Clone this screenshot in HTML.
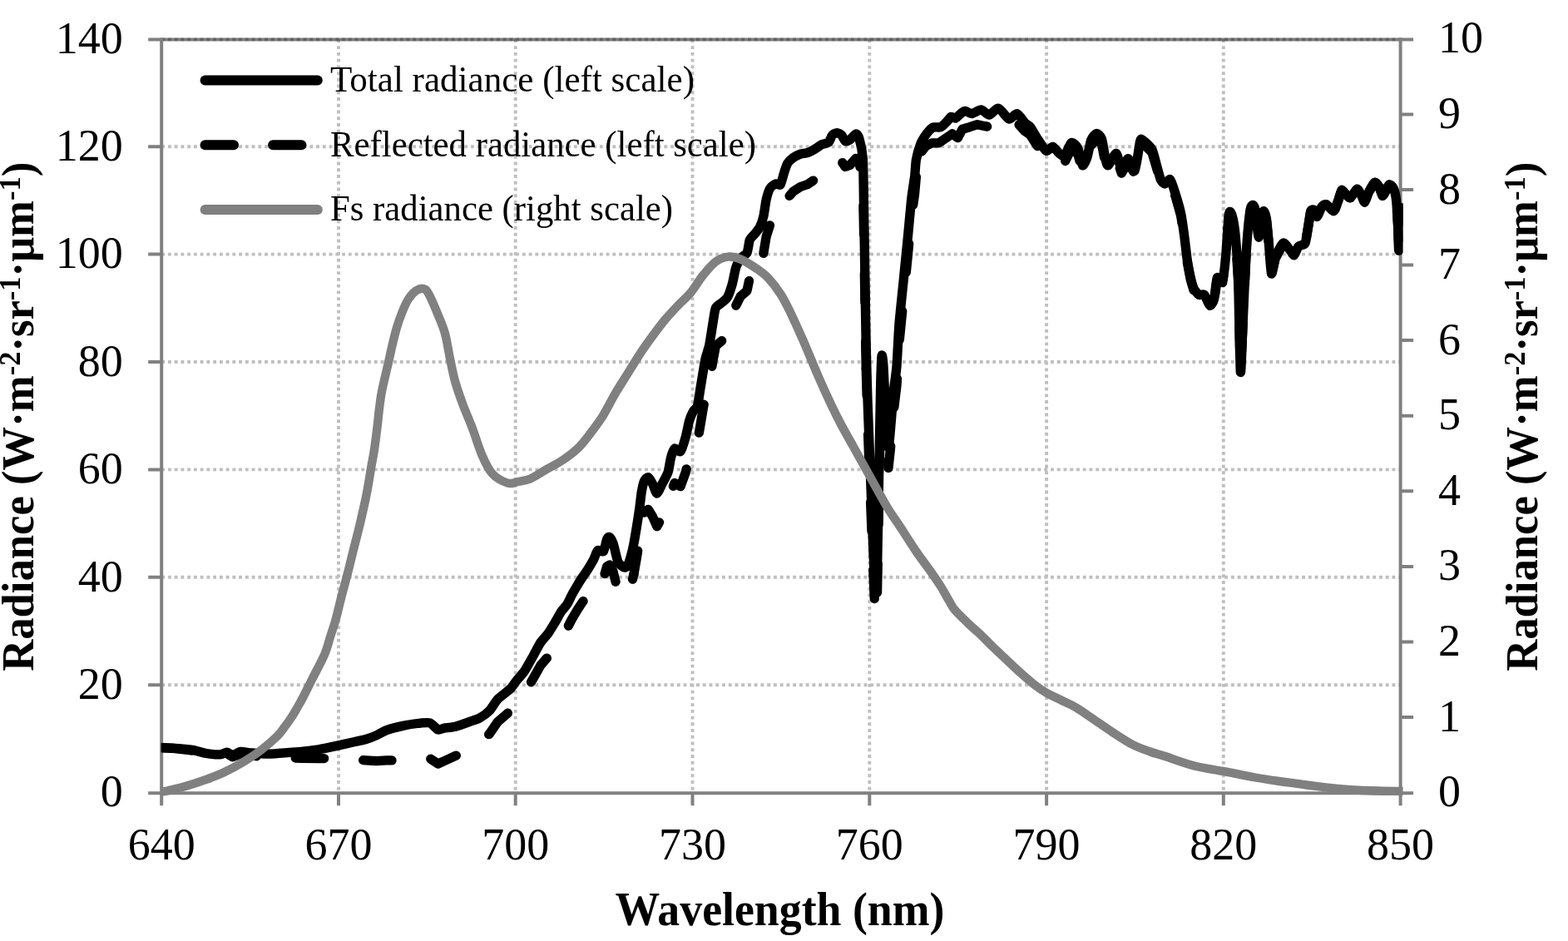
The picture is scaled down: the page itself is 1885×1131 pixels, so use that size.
<!DOCTYPE html>
<html><head><meta charset="utf-8"><title>Radiance chart</title><style>html,body{margin:0;padding:0;background:#fff;overflow:hidden}svg{display:block}</style></head><body>
<svg width="1885" height="1131" viewBox="0 0 1885 1131">
<defs><clipPath id="pa"><rect x="193.8" y="20" width="1492.8" height="960"/></clipPath></defs>
<rect width="1885" height="1131" fill="#fff"/>
<path d="M178.2,47.4 H1699.1" stroke="#808080" stroke-width="4" fill="none"/>
<path d="M194.2,823.2 H1683.6 M194.2,693.8 H1683.6 M194.2,564.4 H1683.6 M194.2,435.0 H1683.6 M194.2,305.6 H1683.6 M194.2,176.2 H1683.6 M194.2,47.4 H1683.6 M407.0,47.4 V953.2 M619.7,47.4 V953.2 M832.5,47.4 V953.2 M1045.3,47.4 V953.2 M1258.1,47.4 V953.2 M1470.8,47.4 V953.2" stroke="#000" stroke-opacity="0.25" stroke-width="3.9" stroke-dasharray="3.9,3.845" fill="none"/>
<path d="M194.2,45.5 V953.2 M1683.6,45.5 V953.2 M178.2,953.2 H1699.1 M178.2,823.2 H194.2 M178.2,693.8 H194.2 M178.2,564.4 H194.2 M178.2,435.0 H194.2 M178.2,305.6 H194.2 M178.2,176.2 H194.2 M1683.6,862.0 H1699.1 M1683.6,771.4 H1699.1 M1683.6,680.9 H1699.1 M1683.6,590.3 H1699.1 M1683.6,499.7 H1699.1 M1683.6,409.1 H1699.1 M1683.6,318.5 H1699.1 M1683.6,228.0 H1699.1 M1683.6,137.4 H1699.1 M194.2,953.2 V968.2 M407.0,953.2 V968.2 M619.7,953.2 V968.2 M832.5,953.2 V968.2 M1045.3,953.2 V968.2 M1258.1,953.2 V968.2 M1470.8,953.2 V968.2 M1683.6,953.2 V968.2" stroke="#808080" stroke-width="4" fill="none"/>
<g clip-path="url(#pa)" fill="none" stroke-linejoin="round" stroke-linecap="round">
<path d="M189.5,898.5 L194.1,898.7 L210.7,899.7 L231.4,902.2 L247.9,906.7 L264.5,908.5 L272.8,906.0 L279.7,909.8 L289.3,905.9 L300.3,907.8 L321.0,910.3 L341.7,910.4 L362.4,911.4 L383.1,911.6 L403.8,911.6 L424.5,912.8 L440.0,913.9 L452.4,914.6 L464.8,913.9 L483.3,913.9 L501.9,912.7 L516.7,911.5 L526.6,918.0 L534.1,914.7 L547.7,908.4 L563.8,899.8" stroke="#000" stroke-width="11.3" stroke-dasharray="34.5,47" stroke-dashoffset="75.5"/>
<path d="M563.8,899.8 L576.1,893.0 L588.5,881.9 L598.4,867.5 L613.3,854.7 L621.0,844.7 L630.6,833.4 L641.2,815.1 L650.0,799.5 L658.9,789.3 L667.7,775.5 L674.8,763.4 L681.9,755.0 L687.2,744.7 L694.3,732.7 L700.0,724.0 L706.4,715.4 L713.8,703.4 L718.6,693.3 L725.5,695.1 L729.7,680.7 L732.9,679.0 L737.1,687.0 L740.3,700.1 L743.5,711.1 L749.8,717.2 L754.1,716.6 L758.3,705.3 L762.0,689.9" stroke="#000" stroke-width="11.3" stroke-dasharray="34.5,47" stroke-dashoffset="52.0"/>
<path d="M762.0,689.9 L765.5,669.8 L768.8,648.6 L771.3,628.9 L774.5,616.2 L779.2,612.3 L784.5,620.7 L789.8,632.7 L796.0,621.8 L803.1,608.3 L806.6,590.9 L811.0,580.5 L818.1,584.7 L824.3,567.5 L828.7,548.3 L833.1,538.0 L838.4,531.6 L842.0,510.6 L845.5,489.8 L848.3,474.7 L852.7,460.0 L857.1,433.2 L860.4,415.8 L868.1,409.3 L874.8,402.9 L880.3,387.4 L884.7,367.4 L890.2,356.3 L898.0,349.4 L901.3,333.8" stroke="#000" stroke-width="11.3" stroke-dasharray="34.5,47" stroke-dashoffset="6.4"/>
<path d="M901.3,333.8 L906.8,326.9 L913.5,317.7 L917.9,304.2 L921.2,284.2 L925.6,270.5 L932.2,264.4 L938.2,264.8 L942.5,250.3 L946.7,238.1 L953.8,230.0 L962.3,224.5 L970.8,221.7 L979.3,215.9 L987.7,208.9 L996.2,204.8 L1000.5,195.7 L1006.1,192.0 L1011.8,194.1 L1016.0,200.5 L1021.7,198.4 L1028.8,190.4 L1033.0,195.5 L1037.3,219.1 L1038.6,284.1 L1039.9,363.6 L1041.2,443.1" stroke="#000" stroke-width="11.3" stroke-dasharray="34.5,47" stroke-dashoffset="47.3"/>
<path d="M1041.2,443.1 L1043.0,507.5 L1046.0,587.2 L1049.0,666.8 L1051.5,726.5 L1052.8,739.3 L1054.5,716.1 L1056.5,605.8 L1058.5,495.6 L1060.0,453.4 L1062.0,465.1" stroke="#000" stroke-width="11.3" stroke-dasharray="34.5,47" stroke-dashoffset="2.3"/>
<path d="M1062.0,465.1 L1065.0,524.7 L1068.0,562.4 L1071.0,534.0 L1074.0,496.5 L1078.0,463.3 L1081.0,411.7 L1086.3,358.1 L1091.6,304.4 L1095.6,261.4 L1099.6,232.9 L1101.4,212.7" stroke="#000" stroke-width="11.3" stroke-dasharray="34.5,47" stroke-dashoffset="73.8"/>
<path d="M1108.0,182.0 L1113.0,175.5 L1120.5,171.9 L1128.6,171.9 L1136.6,166.4 L1144.7,160.8 L1151.5,165.7 L1157.0,155.2 L1165.7,152.7 L1175.0,149.7 L1181.0,151.0 L1186.7,152.1" stroke="#000" stroke-width="11.3"/>
<path d="M1200.3,142.3 L1213.0,154.2 L1222.6,147.2 L1232.1,157.7 L1238.5,162.1 L1246.4,174.5 L1257.6,189.8 L1265.5,184.7 L1273.5,192.5 L1279.8,195.3 L1287.8,179.1 L1295.8,185.2 L1301.3,205.7 L1306.9,195.8 L1311.7,174.9 L1318.0,166.7 L1324.4,172.7 L1329.2,197.9 L1332.4,204.2 L1341.9,189.4 L1348.3,208.2 L1356.2,195.1 L1364.2,209.1 L1370.6,173.9 L1373.8,172.2 L1384.9,183.1 L1390.3,201.4 L1395.4,219.2 L1400.5,224.2 L1406.9,218.9 L1413.3,236.7 L1419.7,259.6 L1423.6,285.2 L1427.4,315.8 L1431.3,336.2 L1435.1,349.1 L1441.5,356.7 L1447.9,356.6 L1454.4,369.3 L1459.5,361.5 L1463.3,335.8 L1469.7,339.6 L1473.6,310.0 L1477.4,258.7 L1481.3,261.2 L1485.1,284.3 L1488.5,335.4 L1491.3,448.6 L1494.3,386.6 L1497.9,309.7 L1503.1,253.2 L1508.2,250.5 L1513.3,286.4 L1518.5,255.6 L1522.3,263.3 L1525.3,293.2 L1528.5,330.1 L1533.3,310.5 L1542.5,293.1 L1550.5,301.0 L1555.8,307.5 L1561.1,296.9 L1569.1,292.8 L1573.1,270.3 L1575.7,254.4 L1579.7,252.9 L1583.7,260.9 L1589.0,248.9 L1594.3,246.2 L1603.6,254.1 L1608.9,240.8 L1612.9,228.9 L1618.2,234.1 L1623.5,238.1 L1631.4,227.4 L1636.7,235.3 L1640.7,243.3 L1646.0,230.0 L1652.6,219.4 L1658.0,224.7 L1661.9,235.3 L1665.9,230.0 L1669.9,222.0 L1675.0,226.2 L1678.5,240.2 L1680.5,270.2 L1681.8,301.2 L1685.8,250.2" stroke="#000" stroke-width="11.3" stroke-dasharray="34.5,47" stroke-dashoffset="48.6"/>
<path d="M189.5,898.4 C190.0,898.4 191.6,898.5 194.1,898.6 C196.6,898.7 206.3,899.0 210.7,899.3 C215.1,899.6 227.1,900.7 231.4,901.4 C235.7,902.1 244.0,904.9 247.9,905.5 C251.8,906.1 261.6,907.1 264.5,906.9 C267.4,906.7 271.0,904.0 272.8,904.1 C274.6,904.2 277.8,907.7 279.7,907.6 C281.6,907.5 286.9,903.7 289.3,903.4 C291.7,903.1 296.6,904.5 300.3,904.8 C304.0,905.1 316.2,906.2 321.0,906.2 C325.8,906.2 336.9,905.1 341.7,904.8 C346.5,904.5 357.6,903.9 362.4,903.4 C367.2,902.9 378.3,901.5 383.1,900.7 C387.9,899.9 399.0,897.6 403.8,896.6 C408.6,895.6 420.3,892.9 424.5,892.0 C428.7,891.1 436.7,889.5 440.0,888.5 C443.3,887.5 449.5,885.1 452.4,883.8 C455.3,882.5 461.2,878.9 464.8,877.6 C468.4,876.3 479.0,873.5 483.3,872.6 C487.6,871.7 498.0,869.9 501.9,869.5 C505.8,869.1 513.8,868.0 516.7,868.9 C519.6,869.8 524.6,876.3 526.6,877.0 C528.6,877.7 531.6,875.5 534.1,875.1 C536.6,874.7 544.2,874.1 547.7,873.2 C551.2,872.3 560.5,868.9 563.8,867.7 C567.1,866.5 573.2,864.9 576.1,863.3 C579.0,861.7 585.9,856.8 588.5,854.1 C591.1,851.4 595.5,843.4 598.4,840.4 C601.3,837.4 610.7,830.7 613.3,828.1 C615.9,825.5 619.0,820.5 621.0,818.0 C623.0,815.5 628.2,810.0 630.6,806.5 C633.0,803.0 638.9,792.0 641.2,788.0 C643.5,784.0 647.9,775.1 650.0,772.0 C652.1,768.9 656.8,764.3 658.9,761.4 C661.0,758.5 665.8,750.4 667.7,747.3 C669.6,744.2 673.1,737.4 674.8,734.9 C676.5,732.4 680.5,728.4 681.9,726.1 C683.3,723.8 685.8,718.2 687.2,715.5 C688.6,712.8 692.8,705.6 694.3,703.1 C695.8,700.6 698.6,696.1 700.0,694.0 C701.4,691.9 704.8,687.4 706.4,684.8 C708.0,682.2 712.4,674.8 713.8,672.1 C715.2,669.4 717.2,662.6 718.6,661.5 C720.0,660.4 724.2,664.2 725.5,662.6 C726.8,661.0 728.8,649.7 729.7,647.7 C730.6,645.7 732.0,645.0 732.9,645.6 C733.8,646.2 736.2,650.7 737.1,653.0 C738.0,655.3 739.6,663.0 740.3,665.7 C741.0,668.4 742.4,674.5 743.5,676.4 C744.6,678.3 748.6,681.2 749.8,681.7 C751.0,682.2 753.1,682.1 754.1,680.6 C755.1,679.1 757.4,672.1 758.3,668.9 C759.2,665.7 761.2,657.2 762.0,653.0 C762.8,648.8 764.7,637.4 765.5,632.5 C766.3,627.6 768.1,615.8 768.8,611.0 C769.5,606.2 770.6,594.9 771.3,591.0 C772.0,587.1 773.6,580.0 774.5,578.0 C775.4,576.0 778.0,573.2 779.2,573.6 C780.4,574.0 783.3,579.2 784.5,581.5 C785.7,583.8 788.5,593.0 789.8,593.0 C791.1,593.0 794.4,584.5 796.0,581.5 C797.6,578.5 801.9,571.1 803.1,567.4 C804.3,563.7 805.7,553.0 806.6,549.7 C807.5,546.4 809.7,539.8 811.0,539.0 C812.3,538.2 816.5,544.2 818.1,542.6 C819.7,541.0 823.1,529.3 824.3,525.0 C825.5,520.7 827.7,509.0 828.7,505.5 C829.7,502.0 832.0,496.9 833.1,494.8 C834.2,492.7 837.4,491.1 838.4,487.8 C839.4,484.5 841.2,471.5 842.0,466.5 C842.8,461.5 844.8,449.6 845.5,445.3 C846.2,441.0 847.5,433.5 848.3,430.0 C849.1,426.5 851.7,419.9 852.7,415.0 C853.7,410.1 856.2,393.0 857.1,387.8 C858.0,382.6 859.1,373.0 860.4,370.2 C861.7,367.4 866.4,365.1 868.1,363.5 C869.8,361.9 873.4,359.5 874.8,356.9 C876.2,354.3 879.1,345.5 880.3,341.4 C881.5,337.3 883.5,325.1 884.7,321.5 C885.9,317.9 888.6,312.6 890.2,310.5 C891.8,308.4 896.7,306.5 898.0,303.9 C899.3,301.3 900.3,291.0 901.3,288.4 C902.3,285.8 905.4,283.6 906.8,281.8 C908.2,280.0 912.2,275.5 913.5,272.9 C914.8,270.3 917.0,263.6 917.9,259.7 C918.8,255.8 920.3,243.7 921.2,239.8 C922.1,235.9 924.3,228.7 925.6,226.5 C926.9,224.3 930.7,221.5 932.2,221.0 C933.7,220.5 937.0,223.4 938.2,221.9 C939.4,220.4 941.5,211.0 942.5,208.0 C943.5,205.0 945.4,198.6 946.7,196.4 C948.0,194.2 952.0,190.6 953.8,189.3 C955.6,188.0 960.3,185.8 962.3,185.1 C964.3,184.4 968.8,184.4 970.8,183.7 C972.8,183.0 977.3,180.6 979.3,179.4 C981.3,178.2 985.7,174.8 987.7,173.8 C989.7,172.8 994.7,172.3 996.2,171.0 C997.7,169.7 999.3,163.8 1000.5,162.5 C1001.7,161.2 1004.8,159.6 1006.1,159.6 C1007.4,159.6 1010.6,161.3 1011.8,162.5 C1013.0,163.7 1014.8,168.8 1016.0,169.5 C1017.2,170.2 1020.2,169.1 1021.7,168.1 C1023.2,167.1 1027.5,161.2 1028.8,161.0 C1030.1,160.8 1032.0,163.2 1033.0,166.7 C1034.0,170.2 1036.6,180.4 1037.3,190.8 C1038.0,201.2 1038.3,239.1 1038.6,256.0 C1038.9,272.9 1039.6,317.1 1039.9,335.7 C1040.2,354.3 1040.8,398.5 1041.2,415.3 C1041.6,432.1 1042.4,463.1 1043.0,480.0 C1043.6,496.9 1045.3,541.3 1046.0,560.0 C1046.7,578.7 1048.4,623.7 1049.0,640.0 C1049.6,656.3 1051.1,691.5 1051.5,700.0 C1051.9,708.5 1052.5,714.2 1052.8,713.0 C1053.1,711.8 1054.1,705.5 1054.5,690.0 C1054.9,674.5 1056.0,605.7 1056.5,580.0 C1057.0,554.3 1058.1,487.7 1058.5,470.0 C1058.9,452.3 1059.6,431.5 1060.0,428.0 C1060.4,424.5 1061.4,431.6 1062.0,440.0 C1062.6,448.4 1064.3,488.6 1065.0,500.0 C1065.7,511.4 1067.3,536.8 1068.0,538.0 C1068.7,539.2 1070.3,517.6 1071.0,510.0 C1071.7,502.4 1073.2,481.0 1074.0,472.8 C1074.8,464.6 1077.2,449.8 1078.0,440.0 C1078.8,430.2 1080.0,400.9 1081.0,388.7 C1082.0,376.5 1085.1,348.1 1086.3,335.7 C1087.5,323.3 1090.5,293.8 1091.6,282.6 C1092.7,271.4 1094.7,248.2 1095.6,240.0 C1096.5,231.8 1098.9,217.6 1099.6,212.0 C1100.3,206.4 1100.6,196.6 1101.4,192.0 C1102.2,187.4 1105.5,176.2 1106.7,173.0 C1107.9,169.8 1110.3,166.1 1111.5,164.2 C1112.7,162.3 1115.8,158.3 1117.0,157.0 C1118.2,155.7 1120.5,153.5 1122.1,153.0 C1123.7,152.5 1129.1,153.5 1131.0,152.7 C1132.9,151.9 1136.6,147.9 1138.0,146.5 C1139.4,145.1 1142.2,140.8 1143.4,140.3 C1144.6,139.8 1147.3,142.6 1148.7,142.1 C1150.1,141.6 1154.4,136.9 1155.7,135.9 C1157.0,134.9 1158.7,133.2 1160.2,133.3 C1161.7,133.4 1166.1,136.8 1168.4,136.6 C1170.7,136.4 1177.2,131.6 1179.6,131.8 C1182.0,132.0 1186.7,138.4 1189.1,138.2 C1191.5,138.0 1197.5,129.6 1200.3,130.2 C1203.1,130.8 1210.4,142.3 1213.0,143.0 C1215.6,143.7 1220.4,136.1 1222.6,136.6 C1224.8,137.1 1230.2,145.8 1232.1,147.7 C1234.0,149.6 1236.8,150.4 1238.5,152.5 C1240.2,154.6 1244.2,162.0 1246.4,165.3 C1248.6,168.6 1255.4,179.9 1257.6,181.2 C1259.8,182.5 1263.6,176.0 1265.5,176.4 C1267.4,176.8 1271.8,183.1 1273.5,184.4 C1275.2,185.7 1278.1,189.0 1279.8,187.5 C1281.5,186.0 1285.9,172.7 1287.8,171.6 C1289.7,170.5 1294.2,174.8 1295.8,178.0 C1297.4,181.2 1300.0,197.4 1301.3,198.7 C1302.6,200.0 1305.7,192.6 1306.9,189.1 C1308.1,185.6 1310.4,171.7 1311.7,168.4 C1313.0,165.1 1316.5,160.7 1318.0,160.5 C1319.5,160.3 1323.1,163.1 1324.4,166.8 C1325.7,170.5 1328.3,188.6 1329.2,192.3 C1330.1,196.0 1330.9,199.6 1332.4,198.7 C1333.9,197.8 1340.0,183.8 1341.9,184.4 C1343.8,185.0 1346.6,202.8 1348.3,203.5 C1350.0,204.2 1354.3,190.5 1356.2,190.7 C1358.1,190.9 1362.5,207.4 1364.2,205.0 C1365.9,202.6 1369.5,174.3 1370.6,170.0 C1371.7,165.7 1372.1,167.3 1373.8,168.4 C1375.5,169.5 1383.0,176.1 1384.9,179.6 C1386.8,183.1 1389.1,193.8 1390.3,198.0 C1391.5,202.2 1394.2,213.2 1395.4,215.9 C1396.6,218.6 1399.2,221.0 1400.5,221.0 C1401.8,221.0 1405.4,214.4 1406.9,215.9 C1408.4,217.4 1411.8,229.0 1413.3,233.8 C1414.8,238.6 1418.5,251.2 1419.7,256.9 C1420.9,262.6 1422.7,276.0 1423.6,282.6 C1424.5,289.2 1426.5,307.3 1427.4,313.3 C1428.3,319.3 1430.4,329.9 1431.3,333.8 C1432.2,337.7 1433.9,344.3 1435.1,346.7 C1436.3,349.1 1440.0,353.5 1441.5,354.4 C1443.0,355.3 1446.4,352.9 1447.9,354.4 C1449.4,355.9 1453.0,366.6 1454.4,367.2 C1455.8,367.8 1458.5,363.4 1459.5,359.5 C1460.5,355.6 1462.1,336.3 1463.3,333.8 C1464.5,331.3 1468.5,340.7 1469.7,337.7 C1470.9,334.7 1472.7,317.6 1473.6,308.2 C1474.5,298.8 1476.5,262.6 1477.4,256.9 C1478.3,251.2 1480.4,256.5 1481.3,259.5 C1482.2,262.5 1484.3,273.9 1485.1,282.6 C1485.9,291.3 1487.8,314.6 1488.5,333.8 C1489.2,353.0 1490.6,441.0 1491.3,447.0 C1492.0,453.0 1493.5,401.3 1494.3,385.1 C1495.1,368.9 1496.9,323.8 1497.9,308.2 C1498.9,292.6 1501.9,258.7 1503.1,251.8 C1504.3,244.9 1507.0,245.3 1508.2,249.2 C1509.4,253.1 1512.1,284.5 1513.3,285.1 C1514.5,285.7 1517.5,257.1 1518.5,254.4 C1519.5,251.7 1521.5,257.7 1522.3,262.1 C1523.1,266.5 1524.6,284.2 1525.3,292.0 C1526.0,299.8 1527.6,327.0 1528.5,329.0 C1529.4,331.0 1531.7,313.7 1533.3,309.4 C1534.9,305.1 1540.5,293.2 1542.5,292.1 C1544.5,291.0 1548.9,298.4 1550.5,300.1 C1552.1,301.8 1554.6,307.2 1555.8,306.7 C1557.0,306.2 1559.5,297.8 1561.1,296.1 C1562.7,294.4 1567.7,295.2 1569.1,292.1 C1570.5,289.0 1572.3,274.1 1573.1,269.6 C1573.9,265.1 1574.9,255.7 1575.7,253.7 C1576.5,251.7 1578.8,251.5 1579.7,252.3 C1580.6,253.1 1582.6,260.8 1583.7,260.3 C1584.8,259.8 1587.8,250.1 1589.0,248.4 C1590.2,246.7 1592.6,245.1 1594.3,245.7 C1596.0,246.3 1601.9,254.3 1603.6,253.7 C1605.3,253.1 1607.8,243.3 1608.9,240.4 C1610.0,237.5 1611.8,229.3 1612.9,228.5 C1614.0,227.7 1617.0,232.7 1618.2,233.8 C1619.4,234.9 1622.0,238.6 1623.5,237.8 C1625.0,237.0 1629.9,227.4 1631.4,227.1 C1632.9,226.8 1635.6,233.2 1636.7,235.1 C1637.8,237.0 1639.6,243.7 1640.7,243.1 C1641.8,242.5 1644.6,232.6 1646.0,229.8 C1647.4,227.0 1651.2,219.8 1652.6,219.2 C1654.0,218.6 1656.9,222.6 1658.0,224.5 C1659.1,226.4 1661.0,234.5 1661.9,235.1 C1662.8,235.7 1665.0,231.4 1665.9,229.8 C1666.8,228.2 1668.8,222.2 1669.9,221.8 C1671.0,221.4 1674.0,223.9 1675.0,226.0 C1676.0,228.1 1677.9,234.9 1678.5,240.0 C1679.1,245.1 1680.1,262.9 1680.5,270.0 C1680.9,277.1 1681.2,303.3 1681.8,301.0 C1682.4,298.7 1685.3,255.9 1685.8,250.0" stroke="#000" stroke-width="11.3"/>
<path d="M189.0,952.5 C189.9,952.4 192.0,952.0 194.2,951.6 C196.4,951.2 197.3,951.4 202.4,950.2 C207.5,949.0 217.3,946.8 224.7,944.6 C232.1,942.4 239.6,939.9 247.0,937.2 C254.4,934.5 261.9,931.8 269.3,928.3 C276.7,924.8 284.2,920.9 291.6,916.4 C299.0,911.9 307.0,906.8 313.9,901.5 C320.8,896.2 328.4,889.6 333.2,884.9 C337.9,880.2 339.5,877.2 342.4,873.4 C345.3,869.6 348.0,865.8 350.5,862.0 C353.0,858.2 355.2,854.3 357.4,850.5 C359.6,846.7 360.7,844.9 363.8,839.0 C366.9,833.1 371.5,823.7 375.9,815.0 C380.3,806.3 386.5,795.2 390.0,787.0 C393.5,778.8 394.8,772.4 397.0,765.5 C399.2,758.6 401.1,753.3 403.3,745.6 C405.5,737.9 407.8,727.7 410.0,719.1 C412.2,710.5 414.3,703.1 416.6,694.3 C418.9,685.5 421.0,676.7 423.6,666.1 C426.2,655.5 429.7,642.5 432.5,630.7 C435.3,618.9 438.0,607.3 440.4,595.4 C442.8,583.5 445.0,568.3 446.6,559.3 C448.2,550.3 448.7,549.0 449.8,541.6 C450.9,534.2 452.2,523.9 453.3,515.0 C454.4,506.1 455.3,496.2 456.3,488.5 C457.3,480.8 457.5,477.9 459.3,469.0 C461.1,460.1 464.8,445.1 467.0,435.4 C469.2,425.7 470.8,417.9 472.5,411.0 C474.2,404.1 475.2,399.7 477.0,393.7 C478.8,387.7 481.2,380.8 483.5,375.1 C485.8,369.4 488.2,363.8 491.0,359.5 C493.8,355.2 497.0,351.6 500.0,349.5 C503.0,347.4 506.5,346.5 509.0,347.0 C511.5,347.5 512.2,347.5 515.0,352.5 C517.8,357.5 522.7,368.9 526.0,377.0 C529.3,385.1 532.5,392.0 535.0,401.0 C537.5,410.0 539.0,421.5 541.0,431.0 C543.0,440.5 544.5,449.0 547.0,458.0 C549.5,467.0 552.5,475.5 556.0,485.0 C559.5,494.5 564.0,504.4 568.0,515.0 C572.0,525.6 576.0,539.3 580.0,548.4 C584.0,557.5 586.9,564.1 592.0,569.5 C597.1,574.9 605.3,579.0 610.4,580.6 C615.5,582.2 617.9,579.9 622.4,579.0 C626.9,578.1 632.0,577.8 637.5,575.5 C643.0,573.2 649.0,568.8 655.5,565.0 C662.0,561.2 669.9,557.4 676.5,553.0 C683.1,548.6 689.4,543.9 695.0,538.5 C700.6,533.1 705.0,527.0 710.0,520.5 C715.0,514.0 720.0,507.4 725.0,499.4 C730.0,491.4 735.0,480.9 740.0,472.4 C745.0,463.9 750.0,456.3 755.0,448.3 C760.0,440.3 765.0,431.8 770.0,424.3 C775.0,416.8 780.0,410.0 785.0,403.2 C790.0,396.4 795.0,389.7 800.0,383.7 C805.0,377.7 810.0,372.5 815.0,367.2 C820.0,361.9 825.0,358.1 830.0,352.1 C835.0,346.1 840.0,337.4 845.0,331.1 C850.0,324.9 855.2,318.4 860.3,314.6 C865.4,310.9 870.4,309.1 875.4,308.6 C880.4,308.1 884.9,309.4 890.4,311.6 C895.9,313.9 902.9,318.4 908.4,322.1 C913.9,325.9 918.5,328.9 923.5,334.1 C928.5,339.4 934.0,346.6 938.5,353.6 C943.0,360.6 946.0,366.9 950.5,376.2 C955.0,385.5 959.9,396.4 965.5,409.2 C971.1,422.0 978.4,440.2 984.0,453.0 C989.6,465.8 994.5,476.5 999.0,486.0 C1003.5,495.5 1006.5,501.5 1011.0,510.0 C1015.5,518.5 1021.0,528.0 1026.0,537.0 C1031.0,546.0 1036.0,555.0 1041.0,564.0 C1046.0,573.0 1051.5,583.0 1056.0,591.0 C1060.5,599.0 1063.5,604.8 1068.0,612.0 C1072.5,619.2 1077.3,625.8 1082.8,634.2 C1088.3,642.6 1095.1,653.5 1101.2,662.5 C1107.3,671.5 1114.6,680.8 1119.6,687.9 C1124.6,695.0 1127.5,699.2 1131.0,704.9 C1134.5,710.6 1138.0,717.2 1140.8,721.9 C1143.6,726.6 1143.9,728.5 1147.9,733.2 C1151.9,737.9 1159.7,745.2 1164.9,750.2 C1170.1,755.2 1174.3,758.4 1179.0,762.9 C1183.7,767.4 1189.3,773.3 1193.2,777.1 C1197.1,780.9 1197.3,781.0 1202.4,785.8 C1207.5,790.6 1216.6,799.5 1223.7,805.9 C1230.8,812.3 1239.2,819.6 1244.9,824.0 C1250.6,828.4 1252.3,829.5 1257.6,832.5 C1262.9,835.5 1270.7,839.0 1276.7,842.0 C1282.7,845.0 1287.7,847.0 1293.7,850.5 C1299.7,854.0 1305.7,858.4 1312.8,863.2 C1319.9,868.0 1328.0,873.8 1336.1,879.1 C1344.2,884.4 1353.8,890.9 1361.6,895.0 C1369.4,899.1 1376.4,901.2 1382.8,903.5 C1389.2,905.8 1391.0,906.0 1399.8,908.8 C1408.6,911.6 1424.0,917.5 1435.8,920.5 C1447.5,923.5 1458.1,924.6 1470.3,926.9 C1482.5,929.2 1495.7,932.2 1509.0,934.5 C1522.3,936.8 1536.5,938.8 1550.3,940.7 C1564.1,942.7 1577.9,944.7 1591.7,946.2 C1605.5,947.7 1617.8,948.9 1633.1,949.7 C1648.4,950.5 1673.1,950.8 1683.4,951.0 C1693.7,951.2 1693.1,951.2 1695.0,951.2" stroke="#808080" stroke-width="10.4"/>
</g>
<g font-family='"Liberation Serif", "Times New Roman", serif' font-size="54" fill="#000"><text x="147.8" y="969.4" text-anchor="end">0</text><text x="147.8" y="840.0" text-anchor="end">20</text><text x="147.8" y="710.6" text-anchor="end">40</text><text x="147.8" y="581.2" text-anchor="end">60</text><text x="147.8" y="451.8" text-anchor="end">80</text><text x="147.8" y="322.4" text-anchor="end">100</text><text x="147.8" y="193.0" text-anchor="end">120</text><text x="147.8" y="63.6" text-anchor="end">140</text><text x="1729" y="969.1">0</text><text x="1729" y="878.5">1</text><text x="1729" y="787.9">2</text><text x="1729" y="697.4">3</text><text x="1729" y="606.8">4</text><text x="1729" y="516.2">5</text><text x="1729" y="425.6">6</text><text x="1729" y="335.0">7</text><text x="1729" y="244.5">8</text><text x="1729" y="153.9">9</text><text x="1729" y="63.3">10</text><text x="194.2" y="1032.8" text-anchor="middle">640</text><text x="407.0" y="1032.8" text-anchor="middle">670</text><text x="619.7" y="1032.8" text-anchor="middle">700</text><text x="832.5" y="1032.8" text-anchor="middle">730</text><text x="1045.3" y="1032.8" text-anchor="middle">760</text><text x="1258.1" y="1032.8" text-anchor="middle">790</text><text x="1470.8" y="1032.8" text-anchor="middle">820</text><text x="1683.6" y="1032.8" text-anchor="middle">850</text></g>
<g fill="none"><path d="M246.6,96.4 H381.8" stroke="#000" stroke-width="12" stroke-linecap="round"/><path d="M246.6,174.2 H381.8" stroke="#000" stroke-width="12" stroke-linecap="round" stroke-dasharray="34.4,47.1"/><path d="M246.6,252 H381.8" stroke="#808080" stroke-width="12" stroke-linecap="round"/></g>
<g font-family='"Liberation Serif", "Times New Roman", serif' font-size="44.9" fill="#000"><text x="397" y="109.7" textLength="438" lengthAdjust="spacingAndGlyphs">Total radiance (left scale)</text><text x="397" y="187.5" textLength="512" lengthAdjust="spacingAndGlyphs">Reflected radiance (left scale)</text><text x="397" y="265.3" textLength="412" lengthAdjust="spacingAndGlyphs">Fs radiance (right scale)</text></g>
<g font-family='"Liberation Serif", "Times New Roman", serif' font-weight="bold" font-size="55" fill="#000">
<text transform="translate(39.6,806.8) rotate(-90)" textLength="612" lengthAdjust="spacingAndGlyphs">Radiance (W·m<tspan dy="-15.5" font-size="36">-2</tspan><tspan dy="15.5">·sr</tspan><tspan dy="-15.5" font-size="36">-1</tspan><tspan dy="15.5">·μm</tspan><tspan dy="-15.5" font-size="36">-1</tspan><tspan dy="15.5">)</tspan></text>
<text transform="translate(1848.2,806.8) rotate(-90)" textLength="612" lengthAdjust="spacingAndGlyphs">Radiance (W·m<tspan dy="-15.5" font-size="36">-2</tspan><tspan dy="15.5">·sr</tspan><tspan dy="-15.5" font-size="36">-1</tspan><tspan dy="15.5">·μm</tspan><tspan dy="-15.5" font-size="36">-1</tspan><tspan dy="15.5">)</tspan></text>
<text x="739.5" y="1111.9" font-size="57" textLength="396" lengthAdjust="spacingAndGlyphs">Wavelength (nm)</text>
</g>
</svg>
</body></html>
